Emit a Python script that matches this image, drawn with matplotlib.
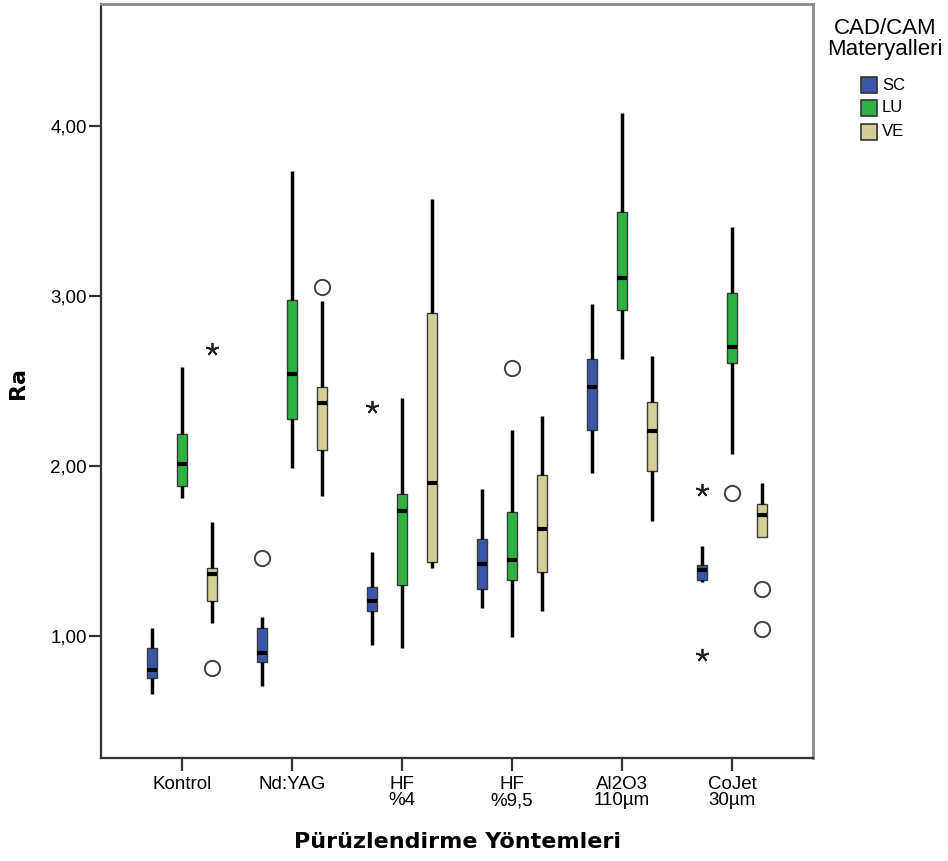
import matplotlib
matplotlib.use("Agg")
import matplotlib.pyplot as plt
from matplotlib.patches import Rectangle

# ---------------- data ----------------
categories = ["Kontrol", "Nd:YAG", "HF\n%4", "HF\n%9,5", "Al2O3\n110µm", "CoJet\n30µm"]
materials = ["SC", "LU", "VE"]
colors = ["#3B56A9", "#2EB343", "#D4CF98"]

# per material: values for the 6 categories
whislo = {
    "SC": [0.655, 0.706, 0.945, 1.165, 1.959, 1.318],
    "LU": [1.812, 1.985, 0.926, 0.994, 2.628, 2.067],
    "VE": [1.076, 1.824, 1.396, 1.147, 1.676, 1.579],
}
q1 = {
    "SC": [0.749, 0.847, 1.145, 1.275, 2.210, 1.325],
    "LU": [1.882, 2.275, 1.298, 1.328, 2.916, 2.606],
    "VE": [1.206, 2.092, 1.432, 1.376, 1.971, 1.582],
}
median = {
    "SC": [0.798, 0.900, 1.206, 1.420, 2.465, 1.386],
    "LU": [2.008, 2.538, 1.735, 1.445, 3.106, 2.696],
    "VE": [1.361, 2.367, 1.896, 1.628, 2.206, 1.710],
}
q3 = {
    "SC": [0.926, 1.047, 1.288, 1.567, 2.626, 1.416],
    "LU": [2.185, 2.975, 1.834, 1.726, 3.494, 3.014],
    "VE": [1.396, 2.465, 2.896, 1.945, 2.373, 1.775],
}
whishi = {
    "SC": [1.047, 1.112, 1.491, 1.861, 2.951, 1.529],
    "LU": [2.582, 3.734, 2.400, 2.210, 4.076, 3.406],
    "VE": [1.667, 2.969, 3.567, 2.294, 2.645, 1.896],
}
# outliers: (category index, material, value)
circle_outliers = [
    (0, "VE", 0.808),
    (1, "SC", 1.459),
    (1, "VE", 3.050),
    (3, "LU", 2.576),
    (5, "LU", 1.838),
    (5, "VE", 1.275),
    (5, "VE", 1.038),
]
star_outliers = [
    (0, "VE", 2.686),
    (2, "SC", 2.347),
    (5, "SC", 1.857),
    (5, "SC", 0.886),
]
yticks = [1, 2, 3, 4]
yticklabels = ["1,00", "2,00", "3,00", "4,00"]

# ---------------- figure ----------------
W, H = 948, 861
fig = plt.figure(figsize=(W / 100, H / 100), dpi=100)
ax = fig.add_axes([101 / W, 1 - 758 / H, (813 - 101) / W, (758 - 4) / H])

offsets = {"SC": -0.273, "LU": 0.0, "VE": 0.273}
for m, c in zip(materials, colors):
    stats = []
    for i in range(len(categories)):
        stats.append(dict(med=median[m][i], q1=q1[m][i], q3=q3[m][i],
                          whislo=whislo[m][i], whishi=whishi[m][i], fliers=[]))
    pos = [i + offsets[m] for i in range(len(categories))]
    ax.bxp(stats, positions=pos, widths=0.088, patch_artist=True,
           showfliers=False, showcaps=False,
           boxprops=dict(facecolor=c, edgecolor="#3a3a3a", linewidth=1.0),
           medianprops=dict(color="black", linewidth=3.0, solid_capstyle="butt"),
           whiskerprops=dict(color="black", linewidth=2.5, solid_capstyle="butt"),
           zorder=3)

for i, m, v in circle_outliers:
    ax.plot(i + offsets[m], v, marker="o", ms=11, mfc="white", mec="#404040",
            mew=1.4, ls="none", zorder=4)
for i, m, v in star_outliers:
    ax.plot(i + offsets[m], v, marker=(5, 2, 0), ms=9.5, mec="#222222",
            mew=1.3, ls="none", zorder=4)

ax.set_xlim(-0.736, 5.736)
ax.set_ylim(0.28, 4.716)
ax.set_xticks(range(len(categories)))
ax.set_xticklabels(categories, fontfamily="Liberation Sans", fontsize=13.5,
                   linespacing=0.95, va="top")
ax.set_yticks(yticks)
ax.set_yticklabels(yticklabels, fontfamily="Liberation Sans", fontsize=13.5)
ax.tick_params(axis="both", direction="out", length=9, width=1.6, color="#333333")
ax.tick_params(axis="y", pad=1)
ax.tick_params(axis="x", pad=4)

for s in ["left", "bottom"]:
    ax.spines[s].set_color("#333333")
    ax.spines[s].set_linewidth(1.6)
for s in ["top", "right"]:
    ax.spines[s].set_color("#8a8a8a")
    ax.spines[s].set_linewidth(2.0)

fig.text(457 / W, 1 - 842 / H, "Pürüzlendirme Yöntemleri", ha="center", va="center",
         fontfamily="DejaVu Sans", fontweight="bold", fontsize=16)
fig.text(18 / W, 1 - 383 / H, "Ra", ha="center", va="center", rotation=90,
         fontfamily="DejaVu Sans", fontweight="bold", fontsize=16)

# legend
fig.text(885 / W, 1 - 28 / H, "CAD/CAM", ha="center", va="center",
         fontfamily="Liberation Sans", fontsize=16)
fig.text(885 / W, 1 - 50 / H, "Materyalleri", ha="center", va="center",
         fontfamily="Liberation Sans", fontsize=16)
leg_y = [85, 108, 132]
for m, c, yy in zip(materials, colors, leg_y):
    fig.add_artist(Rectangle(((861) / W, 1 - (yy + 8) / H), 16 / W, 16 / H,
                             transform=fig.transFigure, facecolor=c,
                             edgecolor="#333333", linewidth=1.2))
    fig.text(882 / W, 1 - yy / H, m, ha="left", va="center",
             fontfamily="Liberation Sans", fontsize=12)

fig.savefig("out.png", dpi=100)
